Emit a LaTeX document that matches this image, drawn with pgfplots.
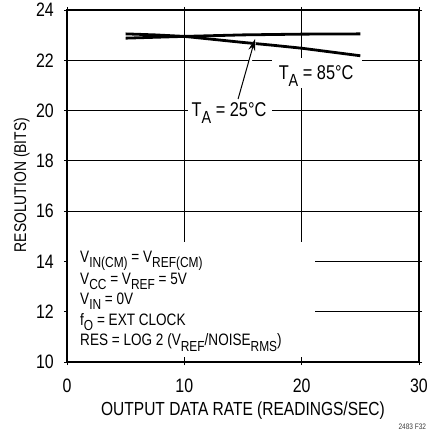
\documentclass[border=0pt]{standalone}
\usepackage{fontspec}
\setmainfont{Liberation Sans}[FakeStretch=0.82]
\usepackage{graphicx}
\usepackage{pgfplots}
\pgfplotsset{compat=1.18}
\usetikzlibrary{arrows.meta}
\newcommand\sub[1]{\raisebox{-0.32em}{\scalebox{0.88}{#1}}}
\tikzset{annot/.style={anchor=base west, inner sep=0pt, font=\fontsize{16.6}{17}\selectfont}}

\begin{document}
\begin{tikzpicture}
\path (0,0) rectangle (433bp,432bp);
\begin{axis}[
  at={(67bp,70bp)}, anchor=south west,
  scale only axis, width=352bp, height=352bp,
  xmin=0, xmax=30, ymin=10, ymax=24,
  xtick={0,10,20,30}, ytick={10,12,...,24},
  grid=major, grid style={black, line width=0.8bp},
  axis line style={line width=1.6bp},
  tick align=center, major tick length=6bp,
  tick style={black, line width=0.8bp},
  /pgf/number format/assume math mode=true,
  ticklabel style={font=\fontsize{19.5}{19}\selectfont},
  xticklabel style={anchor=base, inner sep=0pt, yshift=-27bp},
  yticklabel style={anchor=east, inner sep=0pt, xshift=-10bp},
  clip=false,
]
% white boxes behind labels
\fill[white] (axis cs:17.48,20.9) rectangle (axis cs:25.15,22.1);
\fill[white] (axis cs:10.3,19.6) rectangle (axis cs:17.48,20.4);
\fill[white] (axis cs:0.08,10.2) rectangle (axis cs:21.1,14.77);

% T_A = 85 C (declining)
\addplot[black, line width=2.8bp] coordinates {
 (5,23.05) (7.5,23.01) (10,22.95) (12.5,22.83) (15,22.71)
 (17.5,22.60) (20,22.48) (22.5,22.33) (25,22.18)};
% T_A = 25 C (flat)
\addplot[black, line width=2.8bp] coordinates {
 (5,22.88) (10,22.95) (15,23.01) (20,23.04) (25,23.05)};

\draw[white, line width=3bp] (axis cs:15.6,21.9) -- (axis cs:15.98,22.72);
\draw[black, line width=1bp, -{Stealth[length=12bp,width=7bp]}]
  (axis cs:14.58,20.46) -- (axis cs:16.03,22.85);

\node[font=\fontsize{20}{20}\selectfont] at (axis cs:21.23,21.38) {T\sub{A} = 85°C};
\node[font=\fontsize{20}{20}\selectfont, inner sep=0pt] at (axis cs:13.81,19.9) {T\sub{A} = 25°C};

\node[annot] at (axis cs:1.11,13.95) {V\sub{IN(CM)} = V\sub{REF(CM)}};
\node[annot] at (axis cs:1.11,13.10) {V\sub{CC} = V\sub{REF} = 5V};
\node[annot] at (axis cs:1.11,12.29) {V\sub{IN} = 0V};
\node[annot] at (axis cs:1.11,11.47) {f\sub{O} = EXT CLOCK};
\node[annot] at (axis cs:1.11,10.64) {RES = LOG 2 (V\sub{REF}/NOISE\sub{RMS})};
\end{axis}
\node[anchor=base, font=\fontsize{19}{19}\selectfont] at (243bp,17bp) {OUTPUT DATA RATE (READINGS/SEC)};
\node[anchor=base, rotate=90, font=\fontsize{17}{17}\selectfont] at (26bp,247bp) {RESOLUTION (BITS)};
\node[anchor=base west, font=\fontsize{8}{8}\selectfont, text=black!75] at (395bp,3bp) {2483 F32};
\pgfresetboundingbox
\useasboundingbox (0,0) rectangle (433bp,432bp);
\end{tikzpicture}
\end{document}
